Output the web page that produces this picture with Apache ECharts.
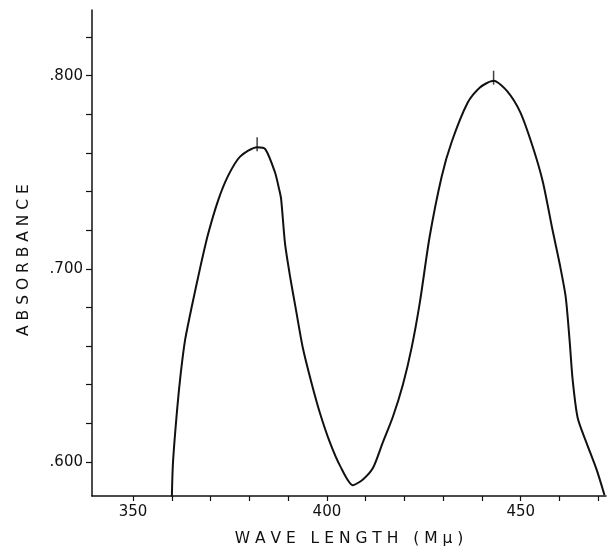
<!DOCTYPE html>
<html><head><meta charset="utf-8">
<script src="https://cdn.jsdelivr.net/npm/echarts@6/dist/echarts.min.js"></script>
<style>html,body{margin:0;padding:0;background:#fff}#c{width:613px;height:553px}</style>
</head><body><div id="c"></div>
<script>
const wavelength = [360.0, 360.3, 361.4, 362.3, 363.4, 365.2, 367.3, 369.3, 371.9, 374.5, 377.6, 382.0, 384.1, 386.6, 387.7, 388.2, 389.2, 390.5, 392.0, 393.8, 396.1, 398.2, 400.8, 403.4, 406.7, 409.3, 411.9, 414.4, 417.0, 419.6, 421.9, 424.0, 426.5, 429.6, 432.2, 436.3, 439.4, 443.0, 446.5, 449.9, 453.1, 455.7, 458.2, 460.1, 461.6, 462.6, 463.4, 464.7, 467.0, 469.6, 471.6];
const absorbance = [0.582, 0.600, 0.628, 0.646, 0.663, 0.681, 0.7005, 0.7176, 0.7352, 0.7481, 0.7581, 0.763, 0.762, 0.750, 0.741, 0.736, 0.713, 0.696, 0.679, 0.659, 0.6404, 0.6254, 0.610, 0.598, 0.588, 0.591, 0.597, 0.610, 0.6233, 0.640, 0.6596, 0.6829, 0.7166, 0.7477, 0.7658, 0.786, 0.7938, 0.7974, 0.792, 0.781, 0.7632, 0.7451, 0.7202, 0.7021, 0.6855, 0.6632, 0.6425, 0.6228, 0.6098, 0.5959, 0.5829];
const peakWavelength = [382.0, 443.0];
const peakAbsorbance = [0.763, 0.7974];
const xTicks = [350, 360, 370, 380, 390, 400, 410, 420, 430, 440, 450, 460, 470];
const xLabels = [350, 400, 450];
const yTicks = [0.60, 0.62, 0.64, 0.66, 0.68, 0.70, 0.72, 0.74, 0.76, 0.78, 0.80, 0.82];
const yLabels = [0.60, 0.70, 0.80];

const ink = '#111';
const font = 'DejaVu Sans';
const chart = echarts.init(document.getElementById('c'), null, {renderer: 'canvas'});
chart.setOption({
  animation: false,
  backgroundColor: '#fff',
  grid: {left: 92, right: 7, top: 10, bottom: 57},
  xAxis: {
    type: 'value', min: 339.4, max: 472,
    name: 'W A V E   L E N G T H   ( M μ )',
    nameLocation: 'middle', nameGap: 35,
    nameTextStyle: {fontFamily: font, fontSize: 15.5, color: ink},
    axisLine: {show: true, lineStyle: {color: ink, width: 1.5}},
    axisTick: {show: true, customValues: xTicks, length: 5, lineStyle: {color: ink, width: 1.2}},
    axisLabel: {customValues: xLabels, margin: 9, fontFamily: font, fontSize: 15, color: ink},
    splitLine: {show: false}
  },
  yAxis: {
    type: 'value', min: 0.5824, max: 0.834,
    name: 'A B S O R B A N C E',
    nameLocation: 'middle', nameGap: 60, nameRotate: 90,
    nameTextStyle: {fontFamily: font, fontSize: 15.5, color: ink, padding: [0, 14, 0, 0]},
    axisLine: {show: true, lineStyle: {color: ink, width: 1.5}},
    axisTick: {show: true, customValues: yTicks, length: 6, lineStyle: {color: ink, width: 1.2}},
    axisLabel: {customValues: yLabels, margin: 9, fontFamily: font, fontSize: 15, color: ink,
      formatter: v => '.' + Math.round(v * 1000)},
    splitLine: {show: false}
  },
  series: [
    {
      type: 'line',
      data: wavelength.map((w, i) => [w, absorbance[i]]),
      smooth: 0.25,
      showSymbol: false,
      lineStyle: {color: ink, width: 2}
    },
    {
      type: 'scatter',
      data: peakWavelength.map((w, i) => [w, peakAbsorbance[i]]),
      symbol: 'rect', symbolSize: [1.5, 14], symbolOffset: [0, -3],
      itemStyle: {color: ink}
    }
  ]
});
</script></body></html>
